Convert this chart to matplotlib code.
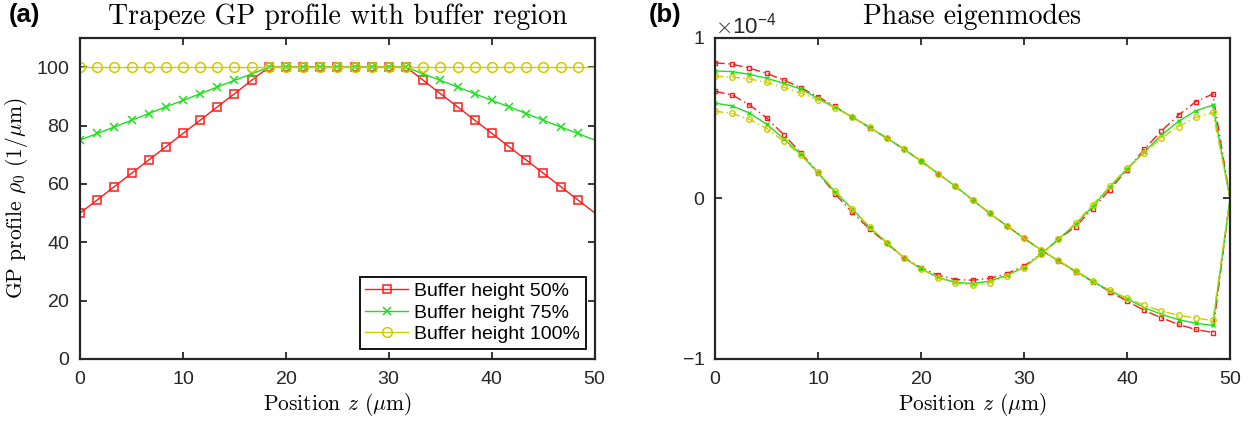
import numpy as np
import matplotlib
matplotlib.use("Agg")
import matplotlib.pyplot as plt
from matplotlib.ticker import ScalarFormatter

# ---------------- data ----------------
# position grid (um), 31 points from 0 to 50
z = [0.0, 1.667, 3.333, 5.0, 6.667, 8.333, 10.0, 11.667, 13.333, 15.0,
     16.667, 18.333, 20.0, 21.667, 23.333, 25.0, 26.667, 28.333, 30.0, 31.667,
     33.333, 35.0, 36.667, 38.333, 40.0, 41.667, 43.333, 45.0, 46.667, 48.333, 50.0]

# GP profile rho_0 (1/um) for each buffer height
rho_50 = [50, 54.5, 59.1, 63.6, 68.2, 72.7, 77.3, 81.8, 86.4, 90.9, 95.5,
          100, 100, 100, 100, 100, 100, 100, 100, 100,
          95.5, 90.9, 86.4, 81.8, 77.3, 72.7, 68.2, 63.6, 59.1, 54.5, 50]
rho_75 = [75, 77.3, 79.5, 81.8, 84.1, 86.4, 88.6, 90.9, 93.2, 95.5, 97.7,
          100, 100, 100, 100, 100, 100, 100, 100, 100,
          97.7, 95.5, 93.2, 90.9, 88.6, 86.4, 84.1, 81.8, 79.5, 77.3, 75]
rho_100 = [100] * 31

# phase eigenmodes (units of 1e-4), first mode
mode1_50 = [0.845, 0.837, 0.812, 0.780, 0.738, 0.690, 0.634, 0.574, 0.505, 0.442,
            0.376, 0.308, 0.233, 0.155, 0.075, -0.008, -0.093, -0.170, -0.248, -0.321,
            -0.390, -0.456, -0.518, -0.580, -0.639, -0.697, -0.743, -0.785, -0.816, -0.835, 0.0]
mode1_75 = [0.795, 0.790, 0.774, 0.749, 0.718, 0.682, 0.624, 0.568, 0.507, 0.444,
            0.377, 0.308, 0.233, 0.155, 0.076, -0.008, -0.093, -0.170, -0.248, -0.321,
            -0.388, -0.453, -0.515, -0.576, -0.624, -0.680, -0.722, -0.755, -0.777, -0.791, 0.0]
mode1_100 = [0.762, 0.757, 0.745, 0.724, 0.693, 0.657, 0.615, 0.565, 0.507, 0.444,
             0.377, 0.308, 0.233, 0.155, 0.077, -0.008, -0.093, -0.170, -0.248, -0.321,
             -0.386, -0.450, -0.512, -0.572, -0.620, -0.666, -0.701, -0.728, -0.745, -0.760, 0.0]

# second mode
mode2_50 = [0.668, 0.645, 0.584, 0.502, 0.398, 0.285, 0.160, 0.028, -0.087, -0.190,
            -0.280, -0.369, -0.430, -0.478, -0.505, -0.509, -0.498, -0.468, -0.420, -0.346,
            -0.254, -0.175, -0.064, 0.055, 0.180, 0.306, 0.421, 0.519, 0.603, 0.651, 0.0]
mode2_75 = [0.594, 0.577, 0.532, 0.463, 0.373, 0.275, 0.160, 0.040, -0.066, -0.179,
            -0.275, -0.369, -0.438, -0.492, -0.522, -0.530, -0.515, -0.478, -0.430, -0.346,
            -0.254, -0.160, -0.050, 0.072, 0.185, 0.289, 0.394, 0.481, 0.546, 0.582, 0.0]
mode2_100 = [0.544, 0.530, 0.494, 0.436, 0.358, 0.268, 0.164, 0.049, -0.066, -0.179,
             -0.275, -0.369, -0.438, -0.495, -0.526, -0.542, -0.524, -0.484, -0.430, -0.346,
             -0.254, -0.154, -0.039, 0.075, 0.190, 0.283, 0.377, 0.448, 0.505, 0.536, 0.0]

labels = ["Buffer height 50%", "Buffer height 75%", "Buffer height 100%"]

# ---------------- style ----------------
RED = "#ff1a1a"
GREEN = "#1fe01f"
YELLOW = "#cccc00"
AXC = "#262626"
TICKFONT = "Liberation Sans"

plt.rcParams["mathtext.fontset"] = "cm"
plt.rcParams["axes.formatter.use_mathtext"] = True

fig = plt.figure(figsize=(12.56, 4.26), dpi=100)
axa = fig.add_axes([0.0637, 0.1573, 0.410, 0.7535])
axb = fig.add_axes([0.5693, 0.1573, 0.410, 0.7535])

serif = dict(family="cmr10")


def style_axes(ax):
    for s in ax.spines.values():
        s.set_linewidth(1.6)
        s.set_color(AXC)
    ax.tick_params(direction="in", length=5, width=1.3, top=True, right=True,
                   colors=AXC, labelsize=14, pad=7)
    ax.tick_params(axis="x", pad=9)
    for lab in ax.get_xticklabels() + ax.get_yticklabels():
        lab.set_fontfamily(TICKFONT)
        lab.set_color(AXC)


zz = np.array(z)
mk = list(range(30))

# ---- panel (a) ----
axa.plot(zz, rho_50, color=RED, lw=1.0, marker="s", ms=5.5, mfc="none",
         mew=1.1, markevery=mk, label=labels[0])
axa.plot(zz, rho_75, color=GREEN, lw=1.0, marker="x", ms=5.5,
         mew=1.1, markevery=mk, label=labels[1])
axa.plot(zz, rho_100, color=YELLOW, lw=1.0, marker="o", ms=7, mfc="none",
         mew=1.1, markevery=mk, label=labels[2])
axa.set_xlim(0, 50)
axa.set_ylim(0, 110)
axa.set_xticks([0, 10, 20, 30, 40, 50])
axa.set_yticks([0, 20, 40, 60, 80, 100])
style_axes(axa)
axa.set_title("Trapeze GP profile with buffer region", fontsize=20, pad=10, **serif)
axa.set_xlabel(r"Position $z$ ($\mu$m)", fontsize=15.5, labelpad=2, **serif)
axa.set_ylabel(r"GP profile $\rho_0$ $(1/\mu$m$)$", fontsize=15.5, labelpad=5, **serif)
leg = axa.legend(loc="lower right", bbox_to_anchor=(0.982, 0.031), borderaxespad=0,
                 prop=dict(family=TICKFONT, size=14), handlelength=2.2,
                 handletextpad=0.3, labelspacing=0.2, borderpad=0.3,
                 fancybox=False, framealpha=1, edgecolor="black")
leg.get_frame().set_linewidth(1.3)

# ---- panel (b) ----
scale = 1e-4
for m, c, ls, mkr, ms in [
    (mode1_50, RED, (0, (7, 2.5, 1, 2.5)), "s", 3.2),
    (mode1_75, GREEN, "-", "x", 3.2),
    (mode1_100, YELLOW, (0, (6, 2.5, 1, 2.5)), "o", 4.0),
    (mode2_50, RED, (0, (7, 2.5, 1, 2.5)), "s", 3.2),
    (mode2_75, GREEN, "-", "x", 3.2),
    (mode2_100, YELLOW, (0, (6, 2.5, 1, 2.5)), "o", 4.0),
]:
    axb.plot(zz, np.array(m) * scale, color=c, lw=1.0, ls=ls, marker=mkr, ms=ms,
             mfc="none", mew=1.0, markevery=mk)
axb.set_xlim(0, 50)
axb.set_ylim(-1e-4, 1e-4)
axb.set_xticks([0, 10, 20, 30, 40, 50])
axb.set_yticks([-1e-4, 0, 1e-4])
fmt = ScalarFormatter(useMathText=True)
fmt.set_powerlimits((-3, 3))
axb.yaxis.set_major_formatter(fmt)
style_axes(axb)
fig.canvas.draw()
for lab in axb.get_yticklabels():
    lab.set_fontfamily(TICKFONT)
off = axb.yaxis.get_offset_text()
off.set_fontfamily(TICKFONT)
off.set_fontsize(16)
off.set_color(AXC)
axb.set_title("Phase eigenmodes", fontsize=20, pad=10, **serif)
axb.set_xlabel(r"Position $z$ ($\mu$m)", fontsize=15.5, labelpad=2, **serif)

# panel tags
fig.text(9 / 1256, 1 - 3 / 426, "(a)", fontsize=18.5, fontweight="bold",
         family=TICKFONT, va="top", ha="left")
fig.text(649 / 1256, 1 - 3 / 426, "(b)", fontsize=18.5, fontweight="bold",
         family=TICKFONT, va="top", ha="left")

fig.savefig("out.png", dpi=100)
